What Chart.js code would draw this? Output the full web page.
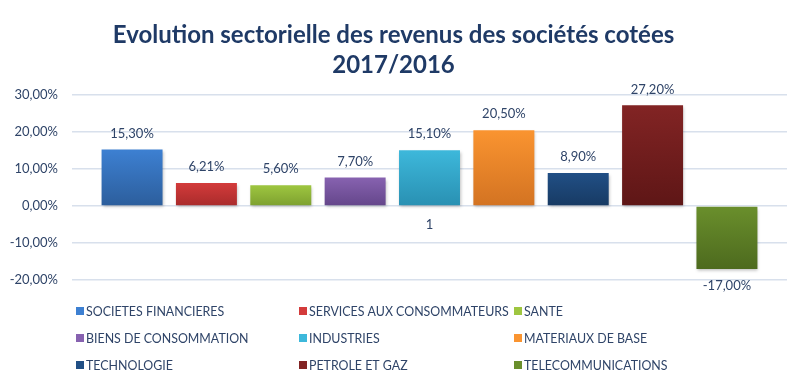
<!DOCTYPE html>
<html>
<head>
<meta charset="utf-8">
<script src="https://cdn.jsdelivr.net/npm/chart.js@4/dist/chart.umd.min.js"></script>
<style>
  html, body { margin: 0; padding: 0; background: #fff; }
  #wrap { width: 800px; height: 384px; }
</style>
</head>
<body>
<div id="wrap"><canvas id="sectorChart"></canvas></div>
<script>
const categories = ['1'];
const sectors = [
  'SOCIETES FINANCIERES', 'SERVICES AUX CONSOMMATEURS', 'SANTE',
  'BIENS DE CONSOMMATION', 'INDUSTRIES', 'MATERIAUX DE BASE',
  'TECHNOLOGIE', 'PETROLE ET GAZ', 'TELECOMMUNICATIONS'
];
const values = [15.30, 6.21, 5.60, 7.70, 15.10, 20.50, 8.90, 27.20, -17.00];
const topColors = ['#3D80D2', '#D33B3B', '#9EC640', '#8762B0', '#3DB8DB', '#FA9430', '#214F85', '#822424', '#6A8F2C'];
const bottomColors = ['#2C5E9C', '#A92B2B', '#7DA02F', '#64468A', '#2990B2', '#D37322', '#173A63', '#5E1616', '#4D6A1E'];
const yMin = -20, yMax = 30, yStep = 10;

const textColor = '#2F4468';
const fmt = v => v.toFixed(2).replace('.', ',') + '%';

function barGradient(i) {
  return function (ctx) {
    const chart = ctx.chart;
    const y = chart.scales && chart.scales.y;
    if (!y || !chart.chartArea) return topColors[i];
    const v = values[i];
    const top = y.getPixelForValue(Math.max(v, 0));
    const bot = y.getPixelForValue(Math.min(v, 0));
    const g = chart.ctx.createLinearGradient(0, top, 0, bot);
    g.addColorStop(0, topColors[i]);
    g.addColorStop(1, bottomColors[i]);
    return g;
  };
}

const datasets = sectors.map((name, i) => ({
  label: name,
  data: [values[i]],
  backgroundColor: barGradient(i),
  borderWidth: 0,
  barPercentage: 0.82,
  categoryPercentage: 0.936
}));

// bar shadows
const shadowPlugin = {
  id: 'shadow',
  beforeDatasetsDraw(chart) {
    const c = chart.ctx;
    c.save();
    c.shadowColor = 'rgba(0,0,0,0.25)';
    c.shadowBlur = 3;
    c.shadowOffsetX = 1;
    c.shadowOffsetY = 2;
  },
  afterDatasetsDraw(chart) {
    chart.ctx.restore();
  }
};

// value labels above/below each bar
const valueLabels = {
  id: 'valueLabels',
  afterDatasetsDraw(chart) {
    const c = chart.ctx;
    c.save();
    c.font = '13px Lato';
    c.fillStyle = textColor;
    c.textAlign = 'center';
    c.textBaseline = 'middle';
    chart.data.datasets.forEach((ds, i) => {
      const bar = chart.getDatasetMeta(i).data[0];
      const v = ds.data[0];
      const y = v >= 0 ? bar.y - 16 : bar.y + 17;
      c.fillText(fmt(v), bar.x, y);
    });
    c.restore();
  }
};

// legend in three fixed columns
const gridLegend = {
  id: 'gridLegend',
  afterDraw(chart) {
    const c = chart.ctx;
    const colX = [76, 299, 514];
    const rowY = [311, 338, 365];
    c.save();
    c.font = '12.4px Lato';
    c.textBaseline = 'middle';
    c.textAlign = 'left';
    sectors.forEach((name, i) => {
      const x = colX[i % 3], y = rowY[Math.floor(i / 3)];
      c.fillStyle = topColors[i];
      c.fillRect(x, y - 4, 8, 8);
      c.fillStyle = textColor;
      c.fillText(name, x + 10, y + 1);
    });
    c.restore();
  }
};

new Chart(document.getElementById('sectorChart'), {
  type: 'bar',
  data: { labels: categories, datasets: datasets },
  options: {
    responsive: true,
    maintainAspectRatio: false,
    animation: false,
    layout: { padding: { top: 0, right: 13, bottom: 104, left: 0 } },
    plugins: {
      legend: { display: false },
      tooltip: { enabled: false },
      title: {
        display: true,
        text: ['Evolution sectorielle des revenus des sociétés cotées', '2017/2016'],
        color: '#1F3A66',
        font: { family: 'Lato', size: 24, weight: 'bold', lineHeight: 1.25 },
        padding: { top: 20, bottom: 15 }
      }
    },
    scales: {
      x: {
        position: { y: 0 },
        grid: { display: false },
        border: { display: false },
        ticks: { color: textColor, font: { family: 'Lato', size: 13 }, padding: 3 }
      },
      y: {
        min: yMin,
        max: yMax,
        afterFit: s => { s.width = 72; },
        grid: { color: '#D8E0EC', lineWidth: 1.5, drawTicks: false },
        border: { display: false },
        ticks: {
          stepSize: yStep,
          padding: 14,
          color: textColor,
          font: { family: 'Lato', size: 13 },
          callback: v => fmt(v)
        }
      }
    }
  },
  plugins: [shadowPlugin, valueLabels, gridLegend]
});
</script>
</body>
</html>
